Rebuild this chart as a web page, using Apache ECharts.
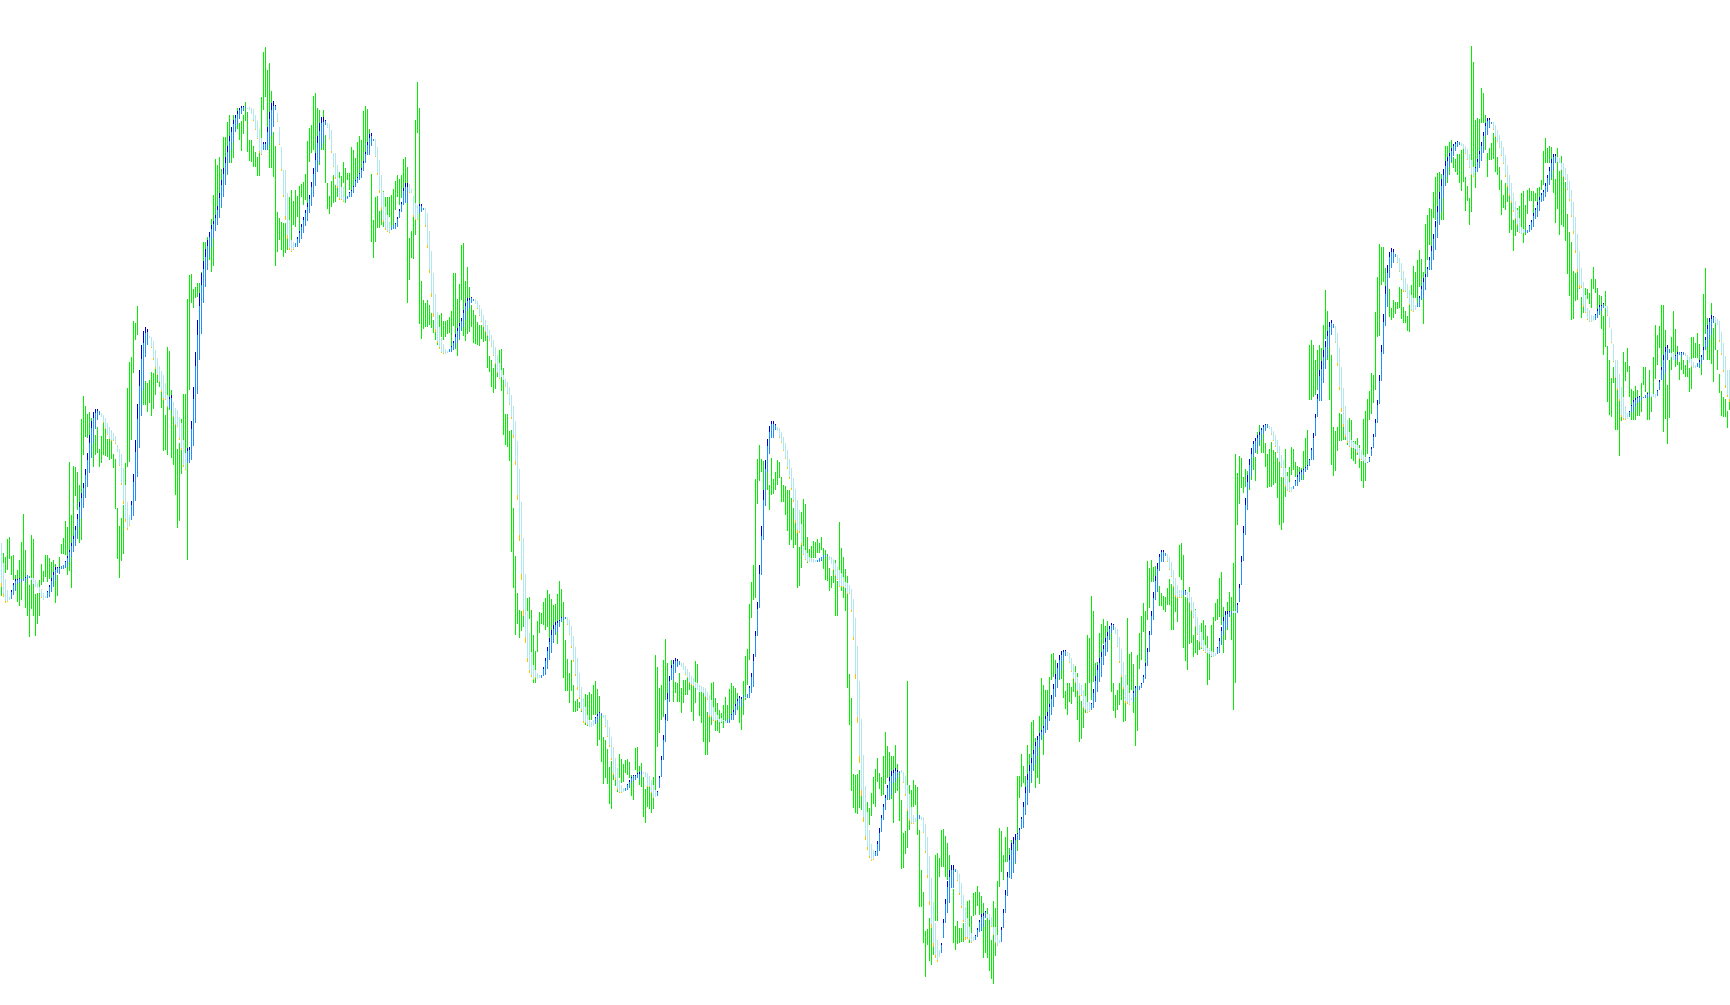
<!DOCTYPE html>
<html><head><meta charset="utf-8"><style>html,body{margin:0;padding:0;background:#fff}#c{width:1730px;height:1005px}</style>
<script src="https://cdn.jsdelivr.net/npm/echarts@6/dist/echarts.min.js"></script></head><body><div id="c"></div><script>
const rangeTop=[
567,553,557,539,537,556,555,575,570,560,542,514,550,575,585,535,539,594,593,580,
564,571,555,555,558,562,560,564,575,557,544,538,521,527,462,515,466,467,472,485,
419,396,406,414,412,418,435,435,427,449,436,423,428,439,439,437,454,459,508,526,
518,505,463,388,362,357,321,323,306,380,385,370,381,383,380,372,373,369,358,378,
386,386,415,347,351,390,417,420,449,443,419,394,394,299,275,274,289,287,283,283,
272,242,242,237,232,219,195,159,165,157,169,137,137,122,115,127,115,119,108,123,
121,115,102,112,140,140,146,152,157,147,97,52,47,70,63,91,132,146,212,218,
222,223,223,213,197,190,201,190,196,186,184,182,174,141,128,125,96,93,108,110,
130,110,135,183,196,181,175,185,172,172,176,162,168,173,173,147,150,158,142,136,
140,111,106,109,129,174,220,197,196,211,208,191,197,197,197,195,189,181,175,179,
175,159,157,167,238,231,211,120,82,108,281,300,303,300,305,313,320,330,330,315,
313,321,321,320,317,311,273,273,299,284,245,243,281,267,287,305,310,315,322,325,
325,327,332,336,356,360,368,364,373,350,349,368,414,414,431,430,508,556,593,610,
611,616,620,598,597,610,635,651,621,612,613,602,598,590,594,599,605,604,594,581,
589,602,640,659,673,660,685,701,699,702,695,718,694,695,692,694,685,681,689,696,
714,737,740,749,767,761,772,780,768,754,759,764,760,759,762,775,777,748,747,766,
763,777,789,781,786,793,777,655,667,688,685,660,639,663,682,660,680,682,683,673,
688,680,680,675,672,683,685,661,664,692,690,687,695,712,707,683,682,698,703,710,
713,705,697,705,689,683,686,688,693,702,702,681,656,649,604,582,565,479,459,445,
459,461,460,470,485,458,479,472,460,462,477,485,486,490,490,498,508,514,515,547,
512,499,504,537,549,546,541,542,539,543,537,548,550,554,568,576,568,560,581,522,
548,557,569,576,674,698,774,775,774,770,796,800,810,802,808,793,777,769,758,773,
777,756,732,746,752,756,756,745,764,772,800,833,831,681,785,790,780,785,787,830,
870,892,931,929,918,924,902,855,853,858,830,829,836,843,855,865,889,926,921,928,
928,923,907,901,900,916,893,892,886,892,896,903,920,908,920,940,901,908,881,828,
831,855,837,827,848,840,840,834,776,776,754,766,776,745,754,722,720,738,736,716,
678,685,690,690,677,654,653,660,669,660,663,660,691,683,683,687,668,666,673,695,
701,702,683,635,638,596,611,663,662,633,624,619,626,621,627,623,683,695,690,683,
677,680,693,618,654,652,664,687,655,633,616,603,611,561,568,560,567,566,563,586,
593,596,597,588,579,584,586,590,597,545,543,555,597,594,587,598,635,609,640,627,
623,620,625,636,650,625,617,603,599,578,572,607,611,602,592,597,563,454,473,456,
458,477,469,471,470,470,455,457,432,425,435,433,443,454,449,442,450,452,458,446,
477,477,449,472,467,447,449,462,466,467,468,451,438,430,345,340,345,360,350,345,
348,325,290,311,325,355,427,431,427,413,414,427,406,420,418,420,441,441,438,445,
461,419,411,399,391,373,375,312,277,244,247,247,268,265,289,308,300,302,302,287,
289,307,311,316,304,285,266,272,260,250,259,272,224,215,208,209,192,177,173,172,
174,173,146,146,142,140,157,159,154,154,150,149,177,186,198,46,62,120,118,119,
88,93,115,153,148,143,133,136,157,167,180,195,183,187,196,202,220,218,208,206,
193,191,205,190,188,191,191,193,188,187,180,151,138,148,146,147,160,179,148,171,
156,173,182,214,232,242,271,273,272,287,297,305,288,289,293,279,267,279,288,295,
296,316,291,346,360,378,367,378,390,401,410,352,362,348,366,389,391,386,390,396,
383,367,367,392,370,397,357,325,335,326,305,305,330,385,360,337,311,329,346,362,
357,360,365,360,368,337,337,343,333,344,355,294,268,318,319,303,328,318,350,374,
391,397,399,411,402];
const rangeBottom=[
596,597,573,570,559,575,580,591,602,606,600,580,608,616,637,609,616,636,624,616,
585,582,577,582,579,582,587,603,596,573,554,554,555,575,571,588,537,496,510,543,
540,455,437,438,467,437,467,455,453,467,463,455,456,457,460,459,468,509,559,578,
561,554,485,467,462,440,373,340,335,420,410,405,405,412,403,416,409,395,383,387,
408,451,450,455,410,458,465,495,528,521,474,465,453,560,390,303,308,298,297,302,
300,300,260,270,260,272,266,220,220,208,208,197,185,175,163,163,158,128,129,140,
151,134,121,152,161,162,167,167,176,176,155,110,97,140,168,168,177,266,252,240,
250,257,253,250,250,240,225,227,217,232,197,205,200,205,162,153,150,153,160,165,
150,150,183,209,214,207,203,202,197,197,197,183,203,180,190,190,190,187,180,180,
172,170,163,155,155,242,258,242,228,228,225,227,220,232,217,230,228,210,197,205,
198,200,200,303,280,258,259,235,133,324,339,329,327,327,325,328,333,340,345,327,
337,340,337,334,333,347,326,349,356,340,300,336,341,334,332,327,343,344,345,346,
339,342,341,368,372,387,393,389,377,379,391,435,445,447,461,552,588,635,624,638,
631,627,640,618,619,677,683,683,652,633,624,625,630,627,650,653,643,628,644,623,
617,678,691,691,703,691,712,712,711,708,712,723,725,726,727,720,715,715,746,740,
762,784,778,784,804,809,780,786,792,778,783,782,773,775,778,796,800,770,777,785,
787,817,823,807,809,813,809,797,747,733,720,717,700,700,702,680,702,693,702,702,
713,703,695,695,690,712,721,703,688,716,723,742,755,755,742,725,712,731,731,733,
723,728,723,723,722,718,718,715,710,723,730,715,700,685,660,618,600,598,504,481,
472,490,490,490,510,495,494,490,485,478,502,502,515,531,545,540,548,545,588,586,
568,555,557,563,562,558,558,558,553,553,550,569,580,581,591,588,583,616,616,570,
591,598,611,688,725,791,808,813,814,808,810,815,825,825,825,816,804,807,782,789,
796,795,784,778,800,799,823,793,791,821,869,868,854,848,830,808,807,805,835,907,
907,943,977,945,961,965,955,921,921,877,867,867,877,880,879,885,943,950,944,943,
942,942,935,935,943,937,916,915,906,915,923,958,953,958,971,979,984,956,944,887,
872,880,862,862,865,850,855,864,851,798,787,783,815,790,793,783,771,788,778,784,
733,755,733,717,717,680,677,677,680,680,679,698,709,715,702,704,692,697,720,742,
739,728,713,710,683,700,682,700,690,682,652,644,656,650,640,692,711,718,710,705,
700,722,721,700,695,690,713,746,731,669,660,632,663,620,608,582,582,590,585,606,
606,610,612,605,605,630,630,612,622,577,580,648,661,670,644,643,657,653,655,650,
649,640,651,685,680,657,653,621,620,617,625,653,640,630,617,640,710,683,525,504,
488,493,487,490,490,480,470,481,454,446,453,453,467,488,487,487,485,483,498,525,
530,523,497,485,486,475,470,477,480,478,480,480,470,465,400,400,397,395,390,380,
390,360,339,360,400,465,476,471,451,441,441,440,440,445,440,459,461,464,455,468,
481,488,481,454,420,414,403,390,337,336,285,282,300,300,317,320,318,314,309,308,
319,323,323,331,332,311,302,298,303,287,290,324,290,260,245,265,218,220,220,220,
220,220,180,183,175,163,168,172,175,183,191,182,211,201,225,212,170,188,165,165,
123,123,150,177,160,160,159,172,175,190,215,208,210,202,233,230,251,236,232,233,
234,243,235,214,201,201,214,201,202,205,190,185,163,163,163,180,193,223,209,235,
225,227,241,274,296,320,319,301,300,289,318,313,313,299,304,308,289,293,310,311,
329,355,347,402,415,417,383,430,430,456,421,397,381,372,397,420,420,420,416,416,
412,385,392,420,420,412,397,379,365,348,370,432,419,444,418,370,352,367,365,380,
370,374,377,377,392,389,358,358,358,368,375,360,334,360,360,364,382,350,370,393,
416,417,417,428,410];
const signalTop=[
543,563,579,590,597,590,583,579,579,578,579,579,577,575,576,578,578,580,583,587,
589,593,596,591,585,578,572,567,567,567,566,565,561,556,550,543,536,526,514,502,
493,483,469,453,435,421,412,409,409,411,413,415,418,423,427,430,433,436,445,449,
454,468,485,502,515,501,474,440,404,370,345,331,327,329,336,337,341,350,358,366,
371,375,383,395,397,395,402,408,410,417,423,440,453,448,447,421,387,352,320,293,
273,261,249,240,232,225,221,215,206,193,180,168,157,146,136,127,120,115,111,108,
106,106,106,108,107,108,109,115,121,129,138,142,142,127,112,103,101,105,113,127,
147,170,170,193,220,240,242,243,237,231,224,217,210,203,195,182,168,153,136,123,
117,117,120,123,124,130,153,153,165,178,187,187,197,196,192,190,186,180,177,173,
168,161,152,142,134,133,139,139,147,160,175,192,207,215,222,227,225,223,217,209,
202,188,183,183,184,189,196,203,205,204,204,208,208,213,231,251,273,294,312,327,
338,344,349,351,349,346,341,334,328,323,318,310,303,298,298,297,299,299,301,305,
309,315,320,325,330,335,340,347,355,363,370,375,379,382,387,395,406,421,441,469,
502,538,574,611,633,652,665,670,673,675,675,667,658,647,638,630,625,622,621,620,
617,617,617,617,620,626,636,647,658,673,687,698,707,715,720,722,720,717,714,712,
713,715,715,720,727,737,747,758,768,780,785,788,788,784,780,777,775,775,773,772,
771,772,772,773,776,780,785,790,791,776,756,735,714,693,676,665,660,658,659,661,
663,663,666,669,672,676,678,682,683,685,686,687,688,692,695,700,707,712,715,719,
718,720,721,720,719,714,710,704,699,696,697,695,697,694,686,673,654,631,602,565,
526,490,460,439,426,421,421,424,427,428,432,437,443,450,459,468,478,489,500,510,
524,546,550,553,557,558,559,560,560,558,557,555,555,555,556,557,559,563,567,570,
573,577,582,583,585,589,599,618,646,681,719,755,786,812,830,844,850,851,841,828,
815,804,795,785,777,771,770,768,770,771,770,772,776,785,794,807,815,818,815,815,
817,817,824,837,856,878,902,923,940,950,943,919,899,881,870,865,865,869,870,874,
883,895,907,918,927,933,937,935,928,920,914,913,911,914,914,917,927,927,935,940,
927,909,890,872,855,843,837,834,833,828,817,802,787,774,765,758,750,742,736,733,
730,726,716,712,704,695,684,674,663,655,651,650,650,652,653,658,664,672,677,683,
685,690,696,702,702,703,689,676,665,658,652,645,638,632,626,623,624,627,629,637,
649,662,675,685,693,698,691,686,686,686,683,675,663,648,631,611,592,576,563,554,
550,550,553,554,557,562,570,578,585,590,590,591,590,592,592,597,602,610,617,625,
632,640,645,648,648,651,652,653,647,638,627,617,611,611,611,611,611,611,603,584,
556,526,498,475,459,448,441,438,435,432,428,425,424,424,426,427,431,435,440,446,
455,460,468,476,482,487,486,480,475,472,470,469,467,465,459,448,433,414,394,370,
361,350,341,331,322,320,324,326,333,348,367,388,406,420,432,440,442,444,445,448,
450,455,457,462,457,447,434,419,400,375,345,314,286,265,252,248,249,254,255,258,
263,271,278,284,290,295,298,305,303,296,286,278,274,267,257,246,234,221,206,192,
179,169,161,157,153,148,144,142,141,142,143,144,146,149,154,160,167,167,159,151,
142,132,123,118,118,122,122,125,130,135,141,147,155,165,175,183,193,201,210,218,
227,229,230,230,225,220,213,208,202,197,193,190,183,175,167,159,154,154,157,158,
163,163,168,174,181,190,202,217,234,251,268,282,295,308,310,315,316,314,309,305,
305,303,306,306,317,329,344,360,360,374,387,397,406,413,411,405,400,398,397,396,
397,397,395,393,393,395,394,394,390,380,367,355,347,345,349,353,353,355,352,352,
352,352,353,355,357,359,362,365,363,360,355,347,337,325,318,315,316,317,319,321,
332,343,356,370,370];
const signalBottom=[
587,597,603,602,600,599,595,591,584,583,582,581,582,579,578,580,584,587,588,593,
598,600,598,598,597,592,587,580,573,574,569,569,568,567,562,557,552,546,539,527,
518,508,498,487,473,458,443,429,420,415,417,423,429,435,439,441,441,444,452,466,
485,504,522,530,526,520,516,501,477,448,416,390,357,345,338,348,360,369,375,382,
392,400,400,407,408,410,417,425,427,440,450,467,470,463,463,460,446,423,394,360,
334,303,287,270,257,247,238,231,225,218,207,197,185,174,162,150,142,132,125,119,
114,111,108,109,110,114,121,130,139,153,155,150,150,150,145,136,127,110,122,145,
171,197,220,239,250,252,250,247,247,243,239,233,226,221,213,206,197,186,172,162,
148,143,125,128,139,153,167,179,188,200,200,202,200,199,197,197,193,187,183,180,
178,171,163,155,155,146,141,157,175,193,210,222,230,232,233,230,229,229,227,218,
212,205,203,203,193,193,217,220,220,213,212,210,227,248,273,297,317,332,343,349,
353,354,354,353,352,352,350,348,343,339,331,327,320,311,308,303,301,304,309,316,
322,327,332,336,341,347,356,364,373,379,377,380,387,394,405,419,438,465,500,541,
580,616,643,662,673,677,680,678,679,678,678,676,675,669,660,653,643,635,632,627,
622,620,619,625,635,648,662,676,690,699,711,723,723,725,727,727,726,724,723,719,
716,718,727,737,747,760,775,780,790,793,793,792,791,790,788,783,781,780,778,780,
775,774,777,787,787,793,798,797,796,788,777,760,742,721,702,680,680,673,667,665,
667,670,675,678,683,685,686,688,690,691,692,693,697,700,717,717,721,721,720,722,
722,721,723,723,723,720,720,715,710,705,707,698,698,698,698,693,687,657,636,608,
575,540,506,472,454,438,438,430,431,438,443,451,459,469,479,490,502,523,533,533,
545,555,560,562,562,562,563,562,562,562,561,559,557,556,560,564,570,576,580,587,
587,587,588,594,594,612,640,679,723,763,796,822,840,850,858,861,860,856,856,851,
832,820,810,800,799,795,783,782,778,773,773,783,796,811,821,824,824,822,819,819,
820,833,853,878,905,928,947,958,962,957,953,938,923,913,903,888,888,872,881,895,
908,922,940,939,940,943,941,940,937,932,931,927,918,918,920,927,935,943,946,943,
942,928,913,896,878,879,873,863,840,840,829,828,815,805,793,781,771,764,756,747,
740,735,733,730,721,715,707,697,688,679,670,661,656,656,663,672,679,683,691,696,
696,708,710,713,712,710,708,702,692,682,677,665,656,652,640,633,630,634,647,663,
677,689,703,704,705,700,702,697,690,690,688,683,679,666,652,635,620,600,592,571,
562,562,556,562,570,577,587,597,598,598,598,595,595,598,603,611,618,627,635,642,
648,651,653,653,654,656,657,656,654,653,645,635,630,627,617,615,613,613,613,602,
585,561,535,510,488,476,457,453,450,445,440,434,431,428,429,435,441,447,453,462,
468,478,487,491,492,492,489,486,486,482,480,475,472,470,466,460,460,436,417,401,
401,383,369,358,347,335,328,343,366,390,412,427,437,443,447,448,448,449,453,459,
460,461,463,463,462,456,448,437,423,404,381,354,326,307,278,268,263,257,263,272,
280,292,292,298,305,311,312,310,307,307,300,298,290,277,270,270,260,250,238,225,
212,198,186,177,167,162,156,151,147,145,146,149,154,160,168,175,177,172,172,168,
161,153,136,135,128,124,130,137,142,148,156,164,177,187,196,203,212,219,225,233,
234,233,232,233,232,230,227,219,217,211,202,201,197,192,185,178,170,163,162,163,
170,177,180,190,201,217,234,253,272,288,288,307,313,320,322,322,321,320,318,315,
311,308,308,316,327,343,362,378,390,401,417,420,420,419,417,412,412,407,403,402,
400,398,398,398,397,397,397,398,396,390,380,380,373,360,353,357,360,360,360,355,
357,355,356,360,363,367,368,368,367,368,364,360,350,347,339,335,323,323,325,342,
355,372,388,397,402];
// Inclusive bar-index runs in which the signal is rising; every other bar is falling.
const risingRuns=[[5,14],[23,49],[65,73],[84,85],[93,122],[131,137],[147,162],[172,186],[195,203],[209,211],[224,236],[270,282],[297,300],[312,320],[328,339],[363,371],[373,387],[408,413],[437,449],[458,459],[470,477],[487,492],[500,532],[545,556],[566,582],[591,592],[608,615],[618,633],[646,666],[683,697],[708,729],[737,745],[762,777],[797,801],[814,824],[828,834],[837,841],[848,856]];
// Share of a signal bar drawn in the darker/orange body colour.
const riseBody=0.2, fallBody=0.08;
const colors={range:'#00f000',rise:'#1e90ff',riseBody:'#0000cd',fall:'#b0e8f0',fallBody:'#ffc000'};

const bars=rangeTop.map((t,i)=>{
  const up=risingRuns.some(r=>i>=r[0]&&i<=r[1])?1:0;
  return [i,t,rangeBottom[i],signalTop[i],signalBottom[i],up];
});
function rect(x,y0,y1,fill){
  return {type:'rect',shape:{x:x,y:y0,width:1,height:Math.max(1,y1-y0)},style:{fill:fill},silent:true};
}
function renderItem(p,api){
  const i=api.value(0);
  const x=Math.round(api.coord([i,0])[0]);
  const Y=v=>Math.round(api.coord([i,v])[1]);
  const a=Y(api.value(3)), b=Y(api.value(4)), len=b-a;
  const kids=[rect(x,Y(api.value(1)),Y(api.value(2)),colors.range)];
  if(api.value(5)){
    kids.push(rect(x,a,b,colors.rise));
    if(len>=5) kids.push(rect(x,a,a+Math.max(1,Math.round(len*riseBody)),colors.riseBody));
  }else{
    kids.push(rect(x,a,b,colors.fall));
    if(len>=8) kids.push(rect(x,b-Math.max(1,Math.round(len*fallBody)),b,colors.fallBody));
  }
  return {type:'group',children:kids};
}
const chart=echarts.init(document.getElementById('c'),null,{renderer:'canvas'});
chart.setOption({
  animation:false,backgroundColor:'#ffffff',
  grid:{left:0,right:0,top:0,bottom:0},
  xAxis:{type:'category',data:bars.map(b=>b[0]),show:false,boundaryGap:true},
  yAxis:{type:'value',inverse:true,min:0,max:1005,show:false},
  series:[{type:'custom',renderItem:renderItem,data:bars,clip:true,silent:true}]
});
</script></body></html>
